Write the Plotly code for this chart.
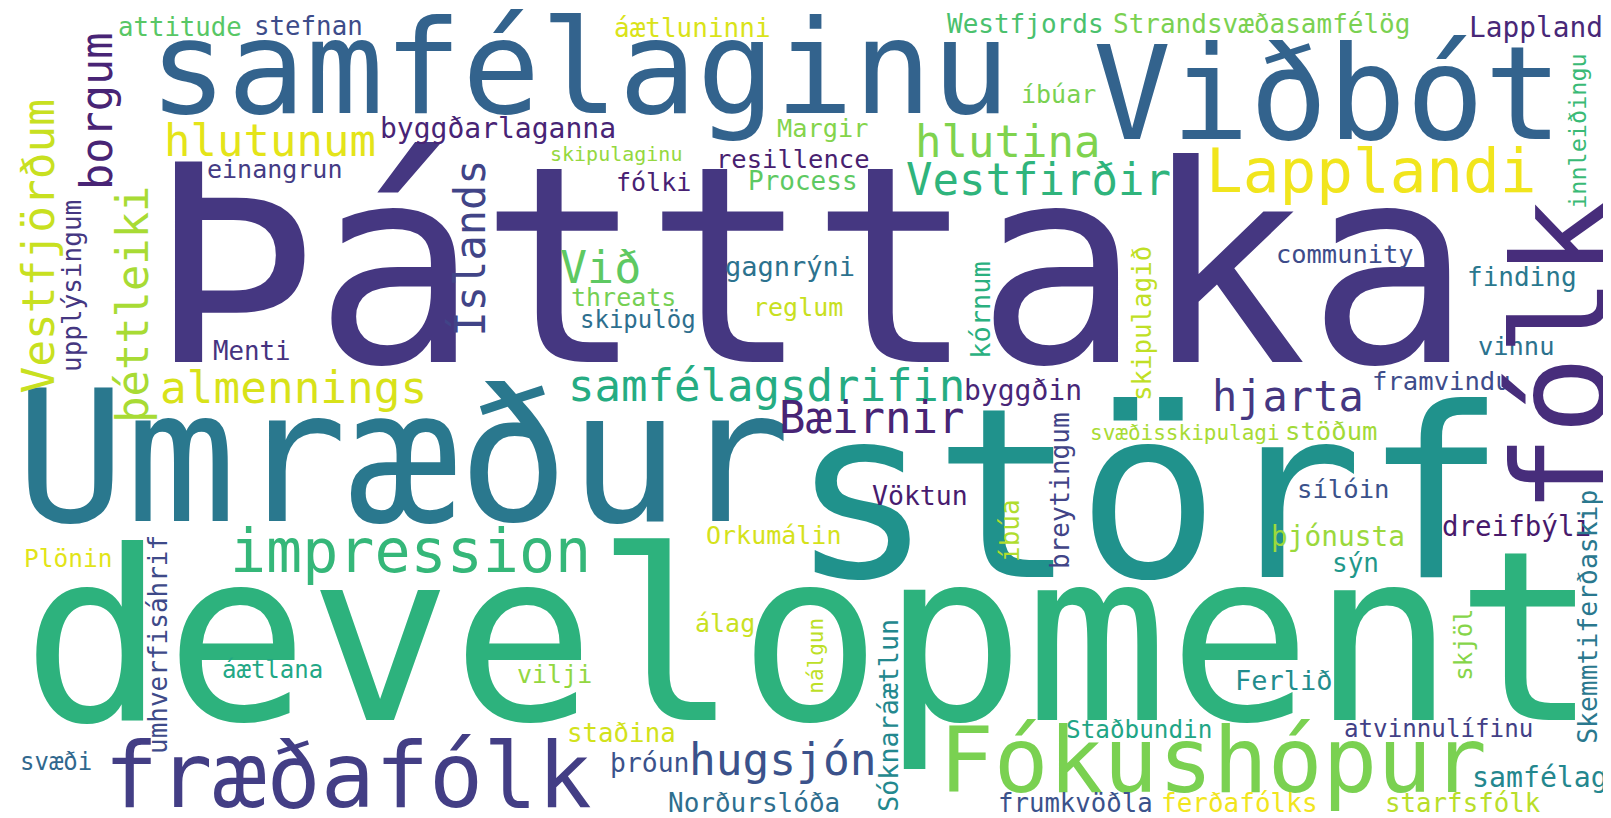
import plotly.graph_objects as go

# ---- word cloud data (word, weight = font size in px) ----
h_words = ["Þátttaka", "samfélaginu", "Viðbót", "Umræður", "störf", "development",
           "fræðafólk", "Fókushópur", "Lapplandi", "impression", "hlutunum", "almennings",
           "hlutina", "Vestfirðir", "samfélagsdrifin", "Bæirnir", "hjarta", "hugsjón", "Við",
           "attitude", "stefnan", "áætluninni", "Westfjords", "Strandsvæðasamfélög", "Lappland",
           "byggðarlaganna", "Margir", "íbúar", "skipulaginu", "resillence", "einangrun", "fólki",
           "Process", "gagnrýni", "community", "finding", "threats", "skipulög", "reglum", "Menti",
           "vinnu", "framvindu", "byggðin", "stöðum", "svæðisskipulagi", "sílóin", "Vöktun",
           "dreifbýli", "Orkumálin", "þjónusta", "Plönin", "sýn", "álag", "áætlana", "vilji",
           "Ferlið", "staðina", "Staðbundin", "atvinnulífinu", "svæði", "þróun", "Norðurslóða",
           "frumkvöðla", "ferðafólks", "starfsfólk", "samfélag"]
h_size = [275, 130, 130, 184, 238, 238,
          90, 91, 61, 60, 44, 44.4,
          44, 44, 44, 44, 42, 44.5, 45,
          25.7, 25.8, 26, 26, 26, 27.8,
          28, 25.3, 25, 20, 25.5, 25, 25,
          26, 27, 25.4, 26, 25, 24, 25, 25.8,
          25.4, 25.6, 28, 25.6, 21, 25.6, 26.5,
          27.5, 25, 27.8, 24.5, 26, 25, 24, 25,
          27, 25.8, 24.3, 24.2, 24, 26.4, 26,
          25.7, 26, 25.8, 28.2]
# layout position: centre along the text, baseline
h_xc = [802, 571, 1320, 394, 1140, 802,
        340, 1205, 1363, 402, 262, 285,
        999, 1030, 758, 863, 1280, 775, 592,
        172, 300, 684, 1017, 1253, 1528,
        490, 814, 1050, 608, 785, 266, 645,
        795, 782, 1337, 1514, 615, 630, 790, 244,
        1508, 1433, 1015, 1323, 1177, 1335, 912,
        1508, 765, 1330, 60, 1347, 717, 264, 546,
        1276, 613, 1131, 1430, 48, 641, 746,
        1067, 1231, 1455, 1532]
h_base = [362, 113, 139, 521, 577, 720,
          807, 792, 192, 572, 156, 403,
          157, 195, 401, 433, 411, 775, 283,
          36, 35, 37, 33, 33, 37,
          138, 137, 103, 161, 168, 178, 191,
          190, 276, 263, 286, 306, 328, 316, 360,
          355, 390, 400, 440, 440, 498, 505,
          536, 544, 546, 567, 572, 632, 678, 683,
          690, 742, 738, 737, 770, 772, 812,
          812, 812, 812, 787]
h_color = ["#453781", "#33638d", "#33638d", "#2a788e", "#20928c", "#2db27d",
           "#433e85", "#7ad151", "#f1e51d", "#35b779", "#e4e419", "#d8e219",
           "#7fd34e", "#2fb47c", "#25ac82", "#482475", "#453781", "#3b528b", "#5ec962",
           "#58c765", "#3e4c8a", "#dae319", "#4ac16d", "#7ad151", "#482878",
           "#482475", "#84d44b", "#7ad151", "#95d840", "#481f70", "#443b84", "#482173",
           "#5ec962", "#2c728e", "#3e4c8a", "#2a788e", "#75d054", "#2e6f8e", "#c8e020", "#46337f",
           "#2c728e", "#3e4c8a", "#482677", "#a2da37", "#a8db34", "#3b528b", "#481c6e",
           "#481a6c", "#d5e21a", "#9bd93c", "#e2e418", "#1f988b", "#cae11f", "#22a785", "#93d741",
           "#228d8d", "#d2e21b", "#21a585", "#424086", "#31688e", "#3b528b", "#2e6e8e",
           "#3b528b", "#f1e51d", "#b8de29", "#24878e"]

v_words = ["fólk", "borgum", "Vestfjörðum", "þéttleiki", "upplýsingum", "Íslands",
           "kórnum", "skipulagið", "innleiðingu", "íbúa", "breytingum", "umhverfisáhrif",
           "nálgun", "Sóknaráætlun", "skjöl", "Skemmtiferðaskip"]
v_size = [131, 43.6, 44.5, 43.8, 26, 42,
          27, 25.8, 23.5, 26, 26, 26,
          21, 26.7, 24, 26.4]
v_yc = [348, 103, 238, 296, 278, 240,
        302, 316, 123, 523, 483, 637,
        648, 707, 637, 609]
v_base = [1606, 112, 53, 147, 81, 485,
          989, 1151, 1586, 1019, 1069, 167,
          823, 897, 1472, 1596]
v_color = ["#472d7b", "#482475", "#c8e020", "#a8db34", "#453781", "#414487",
           "#2ab07f", "#c0df25", "#3aba76", "#b0dd2f", "#414487", "#3e4a89",
           "#bddf26", "#23888e", "#86d549", "#2a788e"]

FONT = "DejaVu Sans Mono"
MID = 0.346  # offset from baseline to middle of the text box, in em
SHIFT = 8    # measured rendering offset of the text box, px

W, H = 1611, 818
fig = go.Figure()
fig.add_trace(go.Scatter(x=[0, W], y=[0, H], mode="markers",
                         marker=dict(opacity=0), hoverinfo="skip", showlegend=False))

ann = []
for w, s, xc, b, c in zip(h_words, h_size, h_xc, h_base, h_color):
    ann.append(dict(x=xc, y=b - MID * s - SHIFT, text=w, showarrow=False, xref="x", yref="y",
                    xanchor="center", yanchor="middle", borderpad=0,
                    font=dict(family=FONT, size=s, color=c)))
for w, s, yc, b, c in zip(v_words, v_size, v_yc, v_base, v_color):
    ann.append(dict(x=b - MID * s - SHIFT, y=yc, text=w, showarrow=False, xref="x", yref="y",
                    xanchor="center", yanchor="middle", textangle=-90, borderpad=0,
                    font=dict(family=FONT, size=s, color=c)))

fig.update_layout(
    width=W, height=H, margin=dict(l=0, r=0, t=0, b=0),
    paper_bgcolor="white", plot_bgcolor="white",
    xaxis=dict(range=[0, W], visible=False, fixedrange=True),
    yaxis=dict(range=[H, 0], visible=False, fixedrange=True),
    annotations=ann, showlegend=False,
)
fig.write_html("out.html")
